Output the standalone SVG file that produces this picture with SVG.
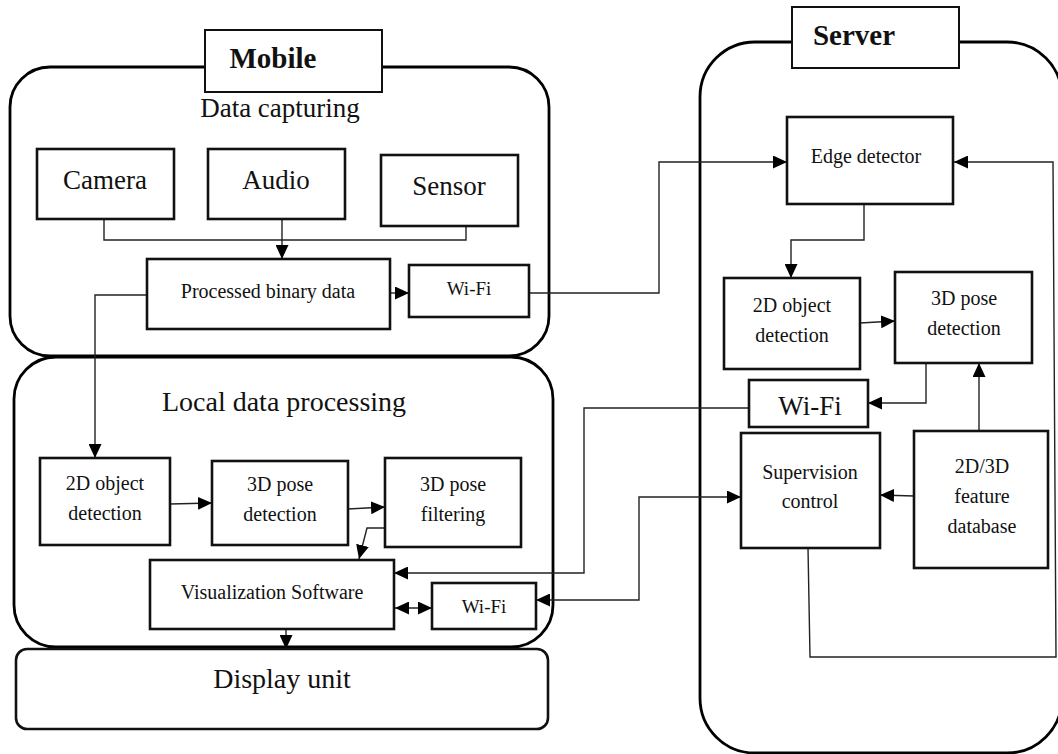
<svg xmlns="http://www.w3.org/2000/svg" width="1058" height="754" viewBox="0 0 1058 754">
<style>
.cont{fill:none;stroke:#000;stroke-width:2.8}
.box{fill:#fff;stroke:#111;stroke-width:2.6}
.lbl{fill:#fff;stroke:#111;stroke-width:2}
.t{font-family:"Liberation Serif","Times New Roman",serif;fill:#111;text-anchor:middle}
.b{font-weight:bold}
.c{fill:none;stroke:#222;stroke-width:1.4}
.a{marker-end:url(#ah)}
.d{marker-start:url(#ah);marker-end:url(#ah)}
</style>
<defs>
<marker id="ah" markerUnits="userSpaceOnUse" markerWidth="15" markerHeight="13" refX="14" refY="6.5" orient="auto-start-reverse">
<path d="M0,0 L14,6.5 L0,13 z" fill="#000"/>
</marker>
</defs>
<rect width="1058" height="754" fill="#fff"/>

<g id="containers">
<rect id="mobile-capture" class="cont" x="10" y="67" width="539" height="289" rx="40"/>
<rect id="mobile-local" class="cont" x="14" y="357" width="539" height="290" rx="42"/>
<rect id="server-container" class="cont" x="700" y="42" width="362" height="711" rx="55"/>
</g>

<g id="mobile-label"><rect class="lbl" x="205" y="30" width="177" height="62"/><text class="t b" x="273" y="68" font-size="29">Mobile</text></g>
<g id="server-label"><rect class="lbl" x="792" y="7" width="167" height="61"/><text class="t b" x="854" y="45" font-size="29">Server</text></g>

<text class="t" x="280" y="117" font-size="27">Data capturing</text>
<text class="t" x="284" y="411" font-size="28">Local data processing</text>

<g id="connectors">
<polyline class="c" points="104,219 104,240 466,240 466,223"/>
<line class="c a" x1="282" y1="219" x2="282" y2="259"/>
<line class="c a" x1="390" y1="293" x2="409" y2="293"/>
<polyline class="c a" points="529,293 659,293 659,162 787,162"/>
<polyline class="c a" points="147,295 95,295 95,458"/>
<line class="c a" x1="170" y1="504" x2="212" y2="503"/>
<line class="c a" x1="348" y1="509" x2="385" y2="507"/>
<polyline class="c a" points="387,528 367,528 359,559"/>
<line class="c d" x1="395" y1="608" x2="432" y2="608"/>
<line class="c a" x1="286" y1="629" x2="286" y2="649"/>
<polyline class="c a" points="864,204 864,240 791,240 791,278"/>
<line class="c a" x1="860" y1="323" x2="895" y2="321"/>
<polyline class="c a" points="926,363 926,403 868,403"/>
<polyline class="c a" points="750,408 584,408 584,573 394,573"/>
<polyline class="c d" points="536,600 639,600 639,497 741,497"/>
<line class="c a" x1="914" y1="496" x2="880" y2="495"/>
<line class="c a" x1="979" y1="431" x2="979" y2="363"/>
<polyline class="c a" points="808,548 810,657 1056,657 1053,162 954,162"/>
</g>

<g id="camera"><rect class="box" x="37" y="149" width="137" height="70"/><text class="t" x="105" y="189" font-size="27">Camera</text></g>
<g id="audio"><rect class="box" x="208" y="149" width="137" height="70"/><text class="t" x="276" y="189" font-size="27">Audio</text></g>
<g id="sensor"><rect class="box" x="381" y="155" width="137" height="71"/><text class="t" x="449" y="195" font-size="27">Sensor</text></g>
<g id="processed"><rect class="box" x="147" y="259" width="243" height="70"/><text class="t" x="268" y="298" font-size="20">Processed binary data</text></g>
<g id="wifi-mobile"><rect class="box" x="409" y="265" width="120" height="52"/><text class="t" x="469" y="295" font-size="19">Wi-Fi</text></g>

<g id="obj2d-local"><rect class="box" x="40" y="458" width="130" height="87"/><text class="t" x="105" y="490" font-size="20">2D object</text><text class="t" x="105" y="520" font-size="20">detection</text></g>
<g id="pose3d-local"><rect class="box" x="212" y="461" width="136" height="84"/><text class="t" x="280" y="491" font-size="20">3D pose</text><text class="t" x="280" y="521" font-size="20">detection</text></g>
<g id="filter-local"><rect class="box" x="385" y="458" width="136" height="89"/><text class="t" x="453" y="491" font-size="20">3D pose</text><text class="t" x="453" y="521" font-size="20">filtering</text></g>
<g id="visualization"><rect class="box" x="150" y="560" width="244" height="69"/><text class="t" x="272" y="599" font-size="20">Visualization Software</text></g>
<g id="wifi-local"><rect class="box" x="432" y="583" width="104" height="46"/><text class="t" x="484" y="613" font-size="19">Wi-Fi</text></g>
<g id="display"><rect class="box" x="16" y="649" width="532" height="80" rx="11"/><text class="t" x="282" y="688" font-size="28">Display unit</text></g>

<g id="edge"><rect class="box" x="787" y="117" width="166" height="87"/><text class="t" x="866" y="163" font-size="20">Edge detector</text></g>
<g id="obj2d-server"><rect class="box" x="724" y="278" width="136" height="91"/><text class="t" x="792" y="312" font-size="20">2D object</text><text class="t" x="792" y="342" font-size="20">detection</text></g>
<g id="pose3d-server"><rect class="box" x="895" y="272" width="137" height="91"/><text class="t" x="964" y="305" font-size="20">3D pose</text><text class="t" x="964" y="335" font-size="20">detection</text></g>
<g id="wifi-server"><rect class="box" x="749" y="380" width="119" height="47"/><text class="t" x="810" y="415" font-size="27">Wi-Fi</text></g>
<g id="supervision"><rect class="box" x="741" y="433" width="139" height="115"/><text class="t" x="810" y="479" font-size="20">Supervision</text><text class="t" x="810" y="508" font-size="20">control</text></g>
<g id="feature-db"><rect class="box" x="914" y="431" width="134" height="137"/><text class="t" x="982" y="473" font-size="20">2D/3D</text><text class="t" x="982" y="503" font-size="20">feature</text><text class="t" x="982" y="533" font-size="20">database</text></g>
</svg>
